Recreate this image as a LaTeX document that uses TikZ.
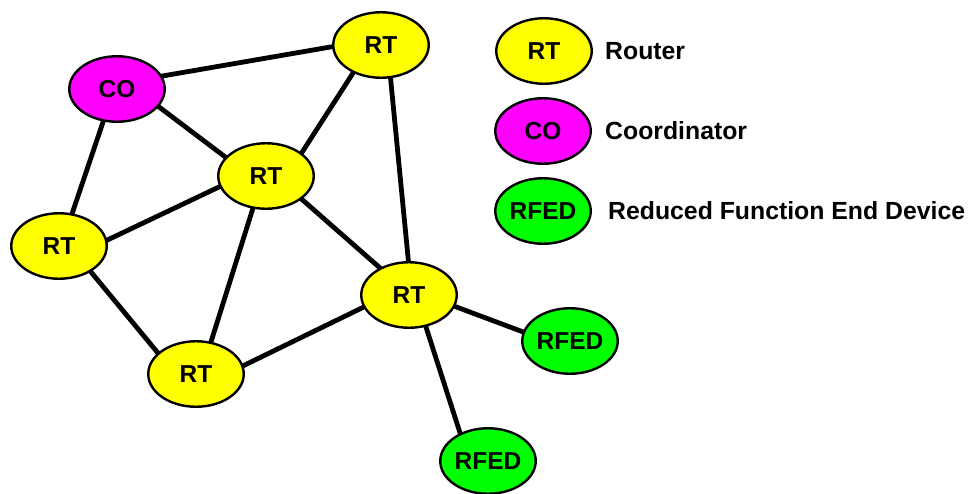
\documentclass[tikz,border=0pt]{standalone}
\usepackage{fontspec}
\setmainfont{Liberation Sans}
\usetikzlibrary{shapes.geometric,backgrounds}
\definecolor{rtyellow}{RGB}{255,255,0}
\definecolor{comag}{RGB}{255,0,255}
\definecolor{rfgreen}{RGB}{0,255,0}
\tikzset{
  dev/.style={ellipse, draw=black, line width=2.4pt, minimum width=95.5pt, minimum height=65.5pt, inner sep=0pt, font=\fontsize{24.5}{28}\selectfont\bfseries},
  rt/.style={dev, fill=rtyellow},
  co/.style={dev, fill=comag},
  rfed/.style={dev, fill=rfgreen},
  link/.style={line width=4.8pt, black, shorten <=-5pt, shorten >=-5pt},
  legtext/.style={anchor=west, inner sep=0pt, font=\fontsize{24.8}{28}\selectfont\bfseries}
}
\begin{document}
\begin{tikzpicture}[x=1pt,y=-1pt]
\useasboundingbox (0,0) rectangle (972,493);
\node[co] (co) at (117,89) {CO};
\node[rt] (rttop) at (381,45) {RT};
\node[rt] (rtmid) at (266,176) {RT};
\node[rt] (rtleft) at (59,246) {RT};
\node[rt] (rtright) at (409,295) {RT};
\node[rt] (rtbot) at (196,374) {RT};
\node[rfed] (rfedr) at (570,341) {RFED};
\node[rfed] (rfedb) at (488,461) {RFED};
% legend
\node[rt] (lrt) at (544,51) {RT};
\node[co] (lco) at (543,131) {CO};
\node[rfed] (lrf) at (543,211) {RFED};
\node[legtext] (trt) at (605,51) {Router};
\node[legtext] (tco) at (605,131) {Coordinator};
\node[legtext] (trf) at (608,211) {Reduced Function End Device};
\begin{scope}[on background layer]
\draw[link] (co.16.9) -- (rttop.182.4);
\draw[link] (co.-23.8) -- (rtmid.155.1);
\draw[link] (co.-113) -- (rtleft.68.5);
\draw[link] (rttop.-135) -- (rtmid.33);
\draw[link] (rttop.-74.7) -- (rtright.91.8);
\draw[link] (rtmid.193.4) -- (rtleft.7);
\draw[link] (rtmid.-112.4) -- (rtbot.65.7);
\draw[link] (rtmid.-33.7) -- (rtright.137.9);
\draw[link] (rtleft.-39.3) -- (rtbot.151.7);
\draw[link] (rtbot.10.8) -- (rtright.195.5);
\draw[link] (rtright.-14) -- (rfedr.169.2);
\draw[link] (rtright.-62.7) -- (rfedb.135);
\end{scope}
\end{tikzpicture}
\end{document}
